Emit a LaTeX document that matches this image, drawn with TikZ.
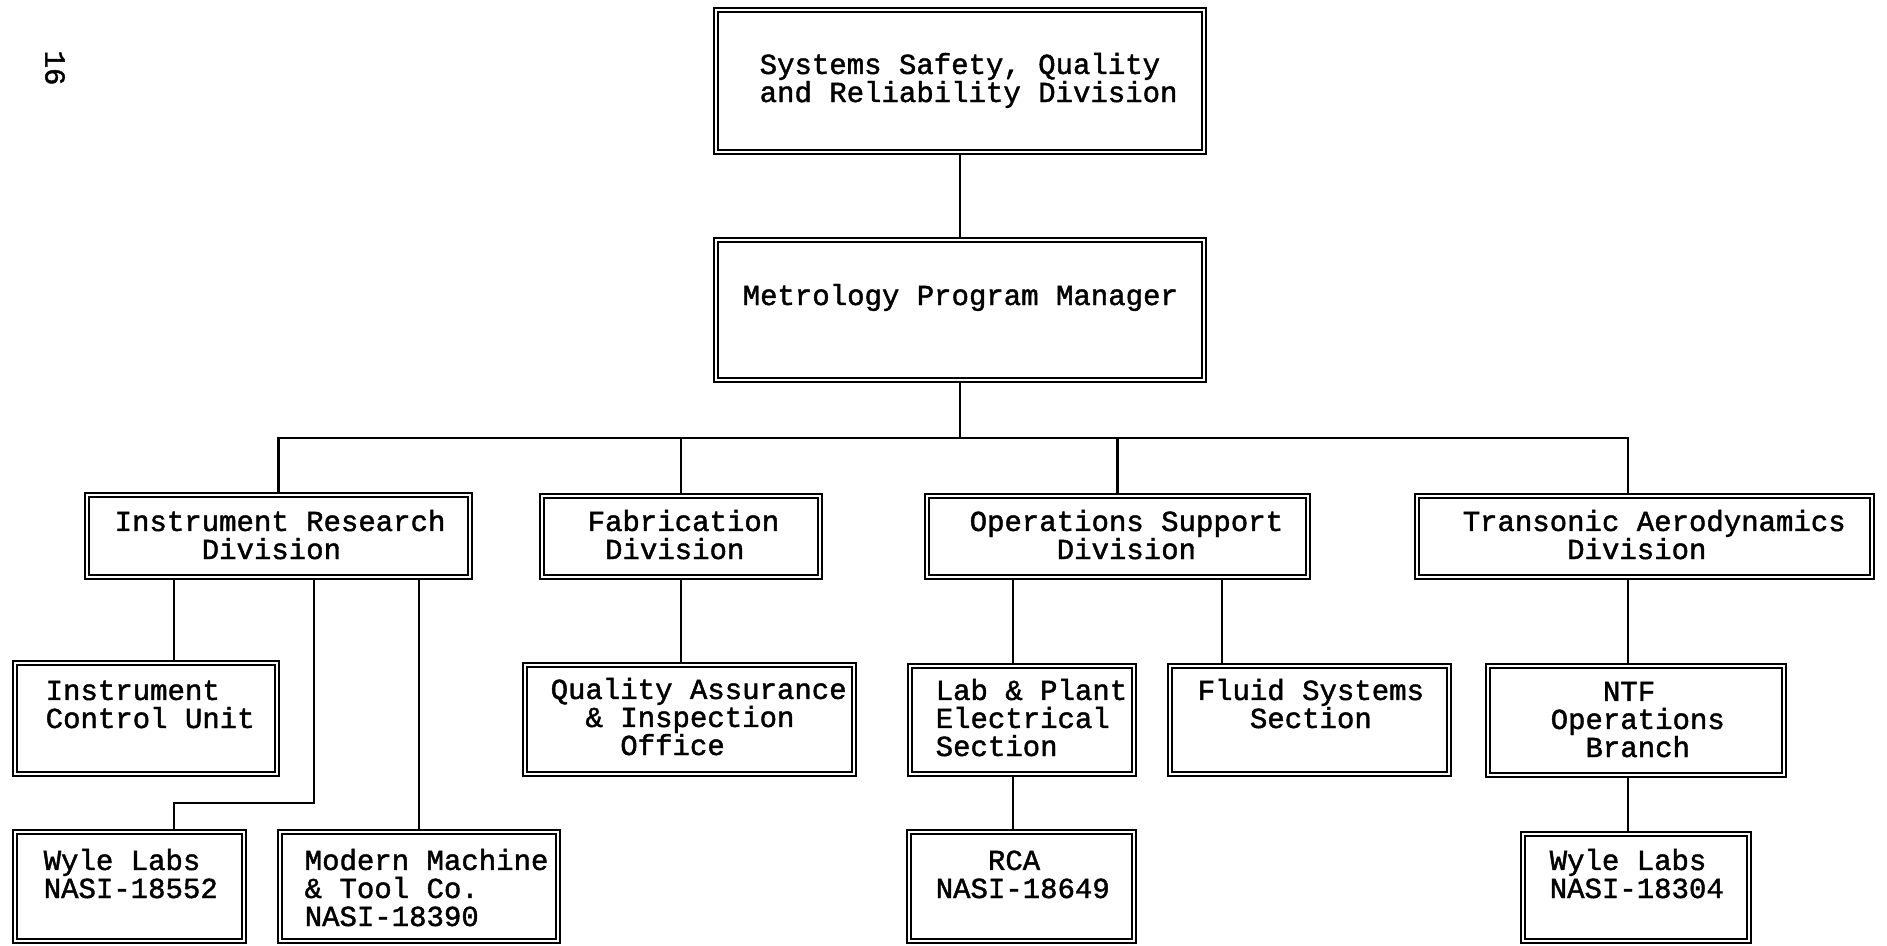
\documentclass[tikz,border=0pt]{standalone}
\usepackage{fontspec}
\setmonofont{Liberation Mono}[RawFeature={embolden=1.5}]
\usepackage{tikz}
\usetikzlibrary{backgrounds}

\newcommand{\boxfont}{\ttfamily\fontsize{8.25}{7.97}\selectfont\setlength{\lineskiplimit}{-100pt}}

\tikzset{
    box/.style = {draw, double, line width = 0.55pt, double distance = 0.6pt, inner sep = 0pt},
    lbl/.style = {anchor = base west, inner sep = 0pt, align = left, font = {\boxfont}},
    link/.style = {line width = 0.6pt},
}

\begin{document}
\begin{tikzpicture}[x = 0.01cm, y = -0.01cm]
        \useasboundingbox (0,0) rectangle (1887,945);

        \node[box, minimum width = 4.88cm, minimum height = 1.42cm] (1) at (960,81) {};
        \node[box, minimum width = 4.88cm, minimum height = 1.40cm] (2) at (960,310) {};

        \node[box, minimum width = 3.83cm, minimum height = 0.82cm] (3) at (278.5,536) {};
        \node[box, minimum width = 2.78cm, minimum height = 0.81cm] (4) at (681,536.5) {};
        \node[box, minimum width = 3.81cm, minimum height = 0.81cm] (5) at (1117.5,536.5) {};
        \node[box, minimum width = 4.55cm, minimum height = 0.81cm] (6) at (1644.5,536.5) {};

        \node[box, minimum width = 2.62cm, minimum height = 1.11cm] (7) at (146,718.5) {};
        \node[box, minimum width = 3.29cm, minimum height = 1.09cm] (8) at (689.5,719.5) {};
        \node[box, minimum width = 2.24cm, minimum height = 1.08cm] (9) at (1022,720) {};
        \node[box, minimum width = 2.79cm, minimum height = 1.08cm] (10) at (1309.5,720) {};
        \node[box, minimum width = 2.96cm, minimum height = 1.09cm] (11) at (1636,720.5) {};

        \node[box, minimum width = 2.29cm, minimum height = 1.09cm] (12) at (129.5,886.5) {};
        \node[box, minimum width = 2.78cm, minimum height = 1.09cm] (13) at (419,886.5) {};
        \node[box, minimum width = 2.25cm, minimum height = 1.09cm] (14) at (1021.5,886.5) {};
        \node[box, minimum width = 2.26cm, minimum height = 1.07cm] (15) at (1636,887.5) {};

        \node[lbl] (t1) at (759,102) {Systems Safety, Quality\\and Reliability Division};
        \node[lbl] (t2) at (742,305) {Metrology Program Manager};
        \node[lbl] (t3) at (114,559) {Instrument Research\\~~~~~Division};
        \node[lbl] (t4) at (587,559) {Fabrication\\~Division};
        \node[lbl] (t5) at (969,559) {Operations Support\\~~~~~Division};
        \node[lbl] (t6) at (1462,559) {Transonic Aerodynamics\\~~~~~~Division};
        \node[lbl] (t7) at (45,728) {Instrument\\Control Unit};
        \node[lbl] (t8) at (550,755) {Quality Assurance\\~~\& Inspection\\~~~~Office};
        \node[lbl] (t9) at (935,756) {Lab \& Plant\\Electrical\\Section};
        \node[lbl] (t10) at (1197,728) {Fluid Systems\\~~~Section};
        \node[lbl] (t11) at (1550,757) {~~~NTF\\Operations\\~~Branch};
        \node[lbl] (t12) at (43,898) {Wyle Labs\\NASI-18552};
        \node[lbl] (t13) at (304,926) {Modern Machine\\\& Tool Co.\\NASI-18390};
        \node[lbl] (t14) at (935,898) {~~~RCA\\NASI-18649};
        \node[lbl] (t15) at (1549,898) {Wyle Labs\\NASI-18304};
        \node[lbl, anchor = center, rotate = -90] (pg) at (55,68) {16};

        \coordinate (bus) at (960,438);
        \coordinate (k1) at (174,803);
        \coordinate (k2) at (314,803);
        \coordinate (k3) at (1013,620);
        \coordinate (k4) at (1222,620);
        \coordinate (k5) at (1628,438);

    \begin{scope}[on background layer]
        \draw[link] (1) -- (2) (2) -- (bus);
        \draw[link] (3.north) |- (k5) -- (6.north -| k5);
        \draw[link] (4.north) -- (4.north |- bus) (5.north) -- (5.north |- bus);
        \draw[link] (3.south -| k1) -- (7.north -| k1) (3.south -| k2) |- (k1) -- (12.north -| k1);
        \draw[link] (3.south -| 13.north) -- (13.north);
        \draw[link] (4.south) -- (4.south |- 8.north);
        \draw[link] (5.south -| k3) -- (9.north -| k3) (9.south -| k3) -- (14.north -| k3);
        \draw[link] (5.south -| k4) -- (10.north -| k4);
        \draw[link] (6.south -| k5) -- (11.north -| k5) (11.south -| k5) -- (15.north -| k5);
    \end{scope}
\end{tikzpicture}
\end{document}
